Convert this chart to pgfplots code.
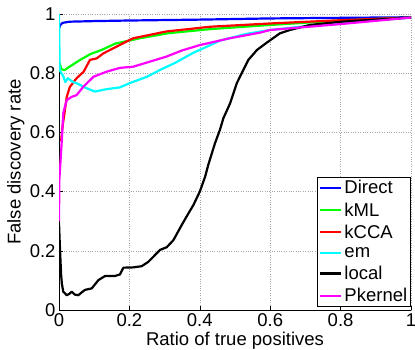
\documentclass[border=0pt]{standalone}
\usepackage{fontspec}
\setmainfont{Liberation Sans}
\usepackage{pgfplots}
\pgfplotsset{compat=1.18}
\definecolor{mblue}{rgb}{0,0,1}
\definecolor{mgreen}{rgb}{0,1,0}
\definecolor{mred}{rgb}{1,0,0}
\definecolor{mcyan}{rgb}{0,1,1}
\definecolor{mmagenta}{rgb}{1,0,1}
\newcommand{\bigf}{\fontsize{18.5bp}{22bp}\selectfont}
\begin{document}
\begin{tikzpicture}
\begin{axis}[
  scale only axis,
  width=352bp, height=296bp,
  xmin=0, xmax=1, ymin=0, ymax=1,
  xtick={0,0.2,0.4,0.6,0.8,1}, ytick={0,0.2,0.4,0.6,0.8,1},
  xticklabels={0,0.2,0.4,0.6,0.8,1}, yticklabels={0,0.2,0.4,0.6,0.8,1},
  axis lines=left,
  axis line style={-, black, line width=0.6pt},
  tick align=inside,
  major tick length=4bp,
  tick style={black, line width=0.5pt},
  grid=major,
  major grid style={dotted, gray!70, line width=0.6pt},
  /pgf/number format/assume math mode=true,
  tick label style={font=\bigf},
  label style={font=\bigf},
  xlabel={Ratio of true positives},
  ylabel={False discovery rate},
  xlabel style={at={(axis description cs:0.5,0)}, anchor=north, yshift=-19bp},
  ylabel style={at={(axis description cs:0,0.5)}, anchor=south, yshift=31bp},
  legend style={at={(1,0.01)}, anchor=south east, draw=black, fill=white, font=\bigf,
    line width=0.6pt, inner sep=1.5bp, row sep=3.4bp, cells={anchor=west}},
  legend cell align=left,
  legend image code/.code={\draw[#1, line width=2.2bp] (0bp,0bp) -- (21bp,0bp);},
  every axis plot/.append style={line width=2.2bp, line join=round},
]
\addplot[mblue] coordinates {(0,0.95) (0.003,0.962) (0.01,0.97) (0.03,0.974) (0.1,0.976) (0.2,0.978) (0.4,0.981) (0.6,0.985) (0.8,0.987) (1,0.989)};
\addlegendentry{Direct}
\addplot[mgreen] coordinates {(0.002,0.835) (0.006,0.815) (0.015,0.81) (0.03,0.822) (0.06,0.845) (0.09,0.865) (0.12,0.878) (0.16,0.9) (0.23,0.918) (0.31,0.935) (0.43,0.949) (0.6,0.963) (0.8,0.978) (1,0.988)};
\addlegendentry{kML}
\addplot[mred] coordinates {(0.006,0.57) (0.01,0.62) (0.015,0.66) (0.022,0.72) (0.031,0.754) (0.05,0.783) (0.07,0.805) (0.088,0.845) (0.107,0.85) (0.126,0.867) (0.164,0.89) (0.2,0.912) (0.211,0.918) (0.305,0.941) (0.43,0.957) (0.6,0.968) (0.8,0.979) (1,0.988)};
\addlegendentry{kCCA}
\addplot[mcyan] coordinates {(0,1) (0.001,0.9) (0.002,0.81) (0.012,0.79) (0.018,0.77) (0.025,0.783) (0.04,0.77) (0.05,0.766) (0.079,0.749) (0.102,0.738) (0.135,0.746) (0.173,0.752) (0.2,0.766) (0.25,0.788) (0.287,0.811) (0.33,0.835) (0.38,0.868) (0.43,0.895) (0.457,0.91) (0.533,0.933) (0.6,0.946) (0.76,0.966) (1,0.988)};
\addlegendentry{em}
\addplot[black] coordinates {(0,0.294) (0.003,0.2) (0.006,0.12) (0.008,0.09) (0.012,0.062) (0.022,0.05) (0.03,0.055) (0.036,0.062) (0.045,0.052) (0.055,0.05) (0.065,0.06) (0.074,0.068) (0.093,0.073) (0.112,0.101) (0.131,0.115) (0.159,0.115) (0.173,0.12) (0.183,0.143) (0.211,0.144) (0.235,0.148) (0.254,0.163) (0.273,0.186) (0.287,0.203) (0.306,0.212) (0.325,0.236) (0.35,0.29) (0.367,0.325) (0.382,0.355) (0.40,0.40) (0.415,0.45) (0.424,0.49) (0.443,0.563) (0.457,0.608) (0.467,0.648) (0.486,0.698) (0.505,0.766) (0.519,0.80) (0.538,0.845) (0.562,0.878) (0.59,0.903) (0.628,0.935) (0.656,0.946) (0.713,0.963) (0.803,0.974) (1,0.988)};
\addlegendentry{local}
\addplot[mmagenta] coordinates {(0,0.3) (0.001,0.44) (0.008,0.574) (0.012,0.665) (0.022,0.709) (0.036,0.72) (0.05,0.726) (0.069,0.754) (0.098,0.788) (0.135,0.805) (0.173,0.818) (0.211,0.822) (0.258,0.839) (0.305,0.856) (0.35,0.877) (0.40,0.895) (0.43,0.903) (0.485,0.918) (0.571,0.937) (0.6,0.946) (0.8,0.966) (1,0.988)};
\addlegendentry{Pkernel}
\end{axis}
\pgfresetboundingbox
\path (-59bp,-40bp) rectangle (356bp,310bp);
\end{tikzpicture}
\end{document}
